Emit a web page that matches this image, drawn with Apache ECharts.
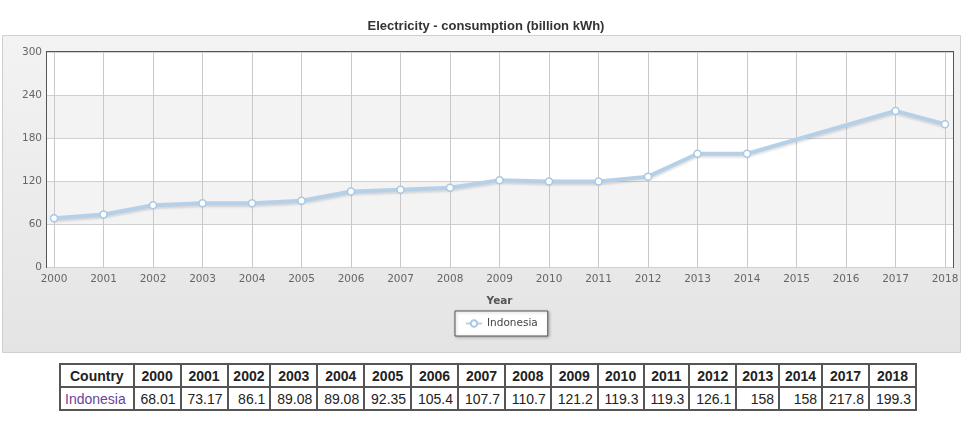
<!DOCTYPE html>
<html>
<head>
<meta charset="utf-8">
<script src="https://cdn.jsdelivr.net/npm/echarts@6/dist/echarts.min.js"></script>
<style>
  html, body { margin: 0; padding: 0; background: #fff; }
  #chart { width: 972px; height: 356px; }
  table.data {
    margin: 7px 0 0 59px;
    width: 858px;
    border-collapse: collapse;
    font-family: "Liberation Sans", Arial, sans-serif;
    font-size: 14px;
    color: #222;
  }
  table.data td, table.data th {
    border: 2px solid #555;
    padding: 2px 4px;
    height: 17px;
  }
  table.data th { font-weight: bold; text-align: center; }
  table.data td { text-align: right; }
  table.data td.country { color: #6a3f9c; text-align: left; }
</style>
</head>
<body>
<div id="chart"></div>
<table class="data" id="tbl"></table>
<script>
// chart data
const years = [2000, 2001, 2002, 2003, 2004, 2005, 2006, 2007, 2008, 2009, 2010, 2011, 2012, 2013, 2014, 2017, 2018];
const values = [68.01, 73.17, 86.1, 89.08, 89.08, 92.35, 105.4, 107.7, 110.7, 121.2, 119.3, 119.3, 126.1, 158, 158, 217.8, 199.3];
const yTicks = [0, 60, 120, 180, 240, 300];
const countryName = 'Indonesia';

const chart = echarts.init(document.getElementById('chart'), null, { renderer: 'canvas' });

const labelFont = 'DejaVu Sans, Verdana, sans-serif';

chart.setOption({
  animation: false,
  title: {
    text: 'Electricity - consumption (billion kWh)',
    left: 'center',
    top: 15,
    textStyle: { fontFamily: 'Liberation Sans, Arial, sans-serif', fontSize: 13, fontWeight: 'bold', color: '#333' }
  },
  graphic: [{
    type: 'rect',
    z: -10,
    shape: { x: 2.5, y: 35.5, width: 958, height: 317 },
    style: {
      fill: new echarts.graphic.LinearGradient(0, 0, 0, 1, [
        { offset: 0, color: '#f3f3f3' },
        { offset: 1, color: '#e4e4e4' }
      ]),
      stroke: '#cfcfcf',
      lineWidth: 1
    }
  }],
  legend: {
    data: [countryName],
    left: 455,
    top: 311,
    backgroundColor: '#fff',
    borderColor: '#555',
    borderWidth: 1,
    padding: [7, 10, 7, 10],
    itemWidth: 16,
    itemHeight: 8,
    shadowColor: 'rgba(0,0,0,0.25)',
    shadowBlur: 3,
    shadowOffsetX: 1,
    shadowOffsetY: 1,
    textStyle: { fontFamily: labelFont, fontSize: 10.5, color: '#444' }
  },
  grid: [
    { left: 47, right: 19, top: 52, bottom: 89, show: true, backgroundColor: '#fff', borderColor: '#555', borderWidth: 2 },
    { left: 54, right: 27, top: 52, bottom: 89 }
  ],
  xAxis: [
    { gridIndex: 0, type: 'value', min: 0, max: 1, show: false },
    {
      gridIndex: 1,
      type: 'value',
      min: 2000,
      max: 2018,
      interval: 1,
      name: 'Year',
      nameLocation: 'middle',
      nameGap: 29,
      nameTextStyle: { fontFamily: labelFont, fontSize: 10.5, fontWeight: 'bold', color: '#555' },
      axisLine: { show: false },
      axisTick: { show: false },
      axisLabel: {
        margin: 7,
        fontFamily: labelFont,
        fontSize: 10.5,
        color: '#666',
        formatter: v => String(v)
      },
      splitLine: { show: true, lineStyle: { color: '#c9c9c9', width: 1 } }
    }
  ],
  yAxis: [
    {
      gridIndex: 0,
      type: 'value',
      min: yTicks[0],
      max: yTicks[yTicks.length - 1],
      interval: yTicks[1] - yTicks[0],
      axisLine: { show: false },
      axisTick: { show: false },
      axisLabel: { margin: 5, fontFamily: labelFont, fontSize: 10.5, color: '#666' },
      splitLine: { show: true, lineStyle: { color: '#d0d0d0', width: 1 } },
      splitArea: { show: true, areaStyle: { color: ['#ffffff', '#f3f3f3'] } }
    },
    { gridIndex: 1, type: 'value', min: yTicks[0], max: yTicks[yTicks.length - 1], show: false }
  ],
  series: [{
    name: countryName,
    type: 'line',
    xAxisIndex: 1,
    yAxisIndex: 1,
    data: years.map((y, i) => [y, values[i]]),
    symbol: 'circle',
    symbolSize: 7,
    lineStyle: {
      color: '#b6d0e8',
      width: 4,
      shadowColor: 'rgba(0,0,0,0.12)',
      shadowBlur: 2,
      shadowOffsetY: 2
    },
    itemStyle: { color: '#fff', borderColor: '#a8c8e6', borderWidth: 1.5 }
  }]
});

// table under the chart
const tbl = document.getElementById('tbl');
const head = '<tr><th>Country</th>' + years.map(y => '<th>' + y + '</th>').join('') + '</tr>';
const row = '<tr><td class="country">' + countryName + '</td>' + values.map(v => '<td>' + v + '</td>').join('') + '</tr>';
tbl.innerHTML = head + row;
</script>
</body>
</html>
